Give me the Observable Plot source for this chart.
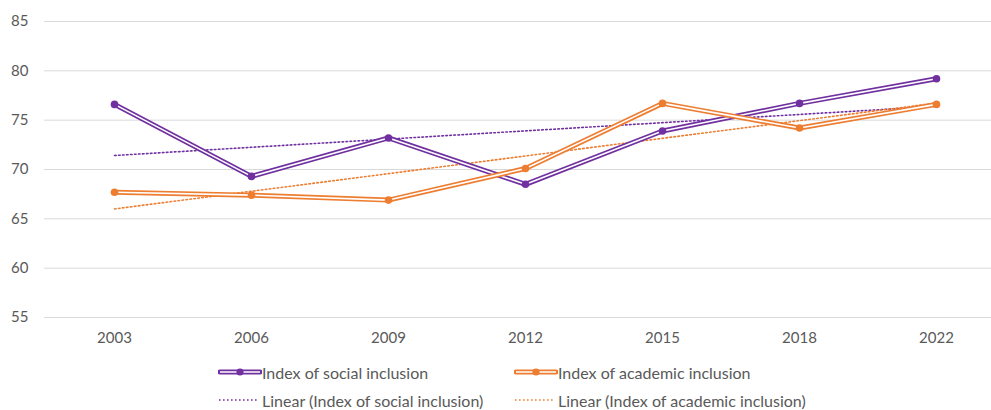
<!DOCTYPE html>
<html>
<head>
<meta charset="utf-8">
<script src="https://cdn.jsdelivr.net/npm/d3@7"></script>
<script src="https://cdn.jsdelivr.net/npm/@observablehq/plot@0.6"></script>
<style>
  html, body { margin: 0; padding: 0; background: #fff; }
  #wrap { position: relative; width: 991px; height: 410px; font-family: Lato, "Open Sans", sans-serif; color: #595959; }
  #legend { position: absolute; left: 0; top: 345px; width: 991px; height: 65px; }
  .item { position: absolute; display: flex; align-items: center; font-size: 16px; white-space: nowrap; }
  .item svg { display: block; }
</style>
</head>
<body>
<div id="wrap">
  <div id="chart"></div>
  <div id="legend"></div>
</div>
<script>
const years = ["2003", "2006", "2009", "2012", "2015", "2018", "2022"];
const socialInclusion = [76.6, 69.3, 73.2, 68.5, 73.9, 76.7, 79.2];
const academicInclusion = [67.7, 67.4, 66.9, 70.1, 76.7, 74.2, 76.6];
const yTicks = [55, 60, 65, 70, 75, 80, 85];
const seriesNames = ["Index of social inclusion", "Index of academic inclusion"];
const colors = ["#7030A0", "#ED7D31"];

// Excel-style linear trendline over the category index 1..n
function trend(values) {
  const xs = values.map((_, i) => i + 1);
  const mx = d3.mean(xs), my = d3.mean(values);
  let sxy = 0, sxx = 0;
  xs.forEach((x, i) => { sxy += (x - mx) * (values[i] - my); sxx += (x - mx) ** 2; });
  const b = sxy / sxx, a = my - b * mx;
  return xs.map(x => a + b * x);
}

const series = [socialInclusion, academicInclusion];
const rows = series.flatMap((vals, s) => vals.map((v, i) => ({year: years[i], value: v, series: seriesNames[s]})));
const trendRows = series.flatMap((vals, s) => trend(vals).map((v, i) => ({year: years[i], value: v, series: seriesNames[s]})));

const marks = [
  Plot.ruleY(yTicks, {stroke: "#D9D9D9", strokeWidth: 1}),
  Plot.axisY({ticks: yTicks, tickSize: 0, tickPadding: 16, fontSize: 15, fill: "#595959", label: null}),
  Plot.axisX({tickSize: 0, tickPadding: 15, fontSize: 15, fill: "#595959", label: null})
];
seriesNames.forEach((name, s) => {
  const tr = trendRows.filter(d => d.series === name);
  marks.push(Plot.line(tr, {x: "year", y: "value", stroke: colors[s], strokeWidth: 1.6, strokeDasharray: "1.6,2.4"}));
});
seriesNames.forEach((name, s) => {
  const d = rows.filter(r => r.series === name);
  marks.push(Plot.line(d, {x: "year", y: "value", stroke: colors[s], strokeWidth: 5, strokeLinejoin: "miter"}));
  marks.push(Plot.line(d, {x: "year", y: "value", stroke: "#fff", strokeWidth: 1.6, strokeLinejoin: "miter"}));
  marks.push(Plot.dot(d, {x: "year", y: "value", fill: colors[s], r: 3.8, stroke: "none"}));
});

const chart = Plot.plot({
  width: 991,
  height: 345,
  marginLeft: 44,
  marginRight: 0,
  marginTop: 21,
  marginBottom: 28,
  style: {fontFamily: "Lato, 'Open Sans', sans-serif", background: "#fff"},
  x: {type: "point", domain: years, range: [113, 936], padding: 0},
  y: {domain: [55, 85]},
  marks
});
document.getElementById("chart").appendChild(chart);

// Legend
const legend = document.getElementById("legend");
const items = [
  {label: seriesNames[0], color: colors[0], kind: "double", left: 218, top: 27},
  {label: seriesNames[1], color: colors[1], kind: "double", left: 514, top: 27},
  {label: "Linear (" + seriesNames[0] + ")", color: colors[0], kind: "dotted", left: 218, top: 55},
  {label: "Linear (" + seriesNames[1] + ")", color: colors[1], kind: "dotted", left: 514, top: 55}
];
items.forEach(it => {
  const div = document.createElement("div");
  div.className = "item";
  div.style.left = it.left + "px";
  div.style.top = (it.top - 10) + "px";
  div.style.height = "20px";
  const w = 44;
  let sym;
  if (it.kind === "double") {
    sym = `<svg width="${w}" height="20"><line x1="2" x2="${w - 2}" y1="10" y2="10" stroke="${it.color}" stroke-width="5" stroke-linecap="round"/><line x1="2" x2="${w - 2}" y1="10" y2="10" stroke="#fff" stroke-width="1.6"/><circle cx="${w / 2}" cy="10" r="3.6" fill="${it.color}"/></svg>`;
  } else {
    sym = `<svg width="${w}" height="20"><line x1="1" x2="${w - 5}" y1="10" y2="10" stroke="${it.color}" stroke-width="1.6" stroke-dasharray="1.6,2.4"/></svg>`;
  }
  div.innerHTML = sym + `<span>${it.label}</span>`;
  legend.appendChild(div);
});
</script>
</body>
</html>
